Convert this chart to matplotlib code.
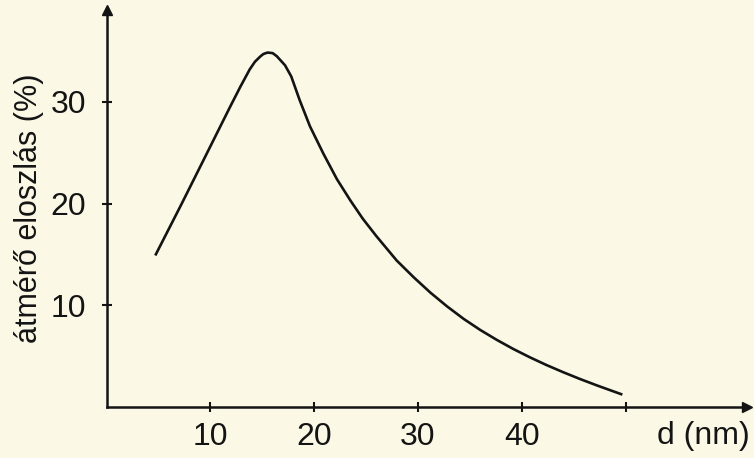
import matplotlib
matplotlib.use("Agg")
import matplotlib.pyplot as plt

# data
d_nm = [4.7, 7.2, 9.65, 11.9, 12.9, 13.8, 14.3, 14.8, 15.1, 15.5, 16.0, 16.4, 17.2,
        17.8, 18.6, 19.6, 20.9, 22.2, 23.5, 24.7, 26.0, 27.96, 29.6, 31.2, 32.8,
        34.4, 36.0, 37.6, 39.2, 40.8, 42.4, 44.0, 45.6, 47.2, 48.8, 49.7]
dist_pct = [14.9, 19.9, 24.9, 29.5, 31.5, 33.2, 33.95, 34.45, 34.7, 34.85, 34.8, 34.5,
            33.6, 32.5, 30.2, 27.6, 24.9, 22.4, 20.3, 18.5, 16.8, 14.4, 12.75, 11.25,
            9.9, 8.67, 7.58, 6.6, 5.7, 4.88, 4.12, 3.42, 2.76, 2.14, 1.55, 1.22]
x_ticks = [10, 20, 30, 40, 50]
x_tick_labels = ["10", "20", "30", "40", ""]
y_ticks = [10, 20, 30]
y_tick_labels = ["10", "20", "30"]
x_label = "d (nm)"
y_label = "átmérő eloszlás (%)"

bg = "#fbf9e6"
ink = "#141414"
font = ["Liberation Sans Narrow", "Liberation Sans", "DejaVu Sans"]
fs = 23

fig = plt.figure(figsize=(7.54, 4.58), dpi=100, facecolor=bg)
W, H = 754, 458
x0_px, y0_px = 106.5, 407.0
px_x, px_y = 10.38, 10.17
xmax, ymax = (747 - x0_px) / px_x, (y0_px - 10) / px_y
ax = fig.add_axes([x0_px / W, (H - y0_px) / H, xmax * px_x / W, ymax * px_y / H])
ax.set_facecolor(bg)
ax.set_xlim(0, xmax)
ax.set_ylim(0, ymax)

ax.plot(d_nm, dist_pct, color=ink, lw=1.9, solid_capstyle="butt", solid_joinstyle="round")

for s in ["top", "right"]:
    ax.spines[s].set_visible(False)
for s in ["left", "bottom"]:
    ax.spines[s].set_color(ink)
    ax.spines[s].set_linewidth(1.8)

# arrow heads
ax.plot(0, 1, marker="^", color=ink, markersize=7, transform=ax.transAxes, clip_on=False)
ax.plot(1, 0, marker=">", color=ink, markersize=7, transform=ax.transAxes, clip_on=False)

ax.set_xticks(x_ticks)
ax.set_xticklabels(x_tick_labels, fontfamily=font, fontsize=fs, color=ink)
ax.set_yticks(y_ticks)
ax.set_yticklabels(y_tick_labels, fontfamily=font, fontsize=fs, color=ink)
ax.tick_params(direction="inout", length=7, width=1.5, color=ink)
ax.tick_params(axis="x", pad=7)
ax.tick_params(axis="y", pad=11)

ax.set_ylabel(y_label, fontfamily=font, fontsize=22, color=ink, labelpad=5)
fig.text(703 / W, (H - 444) / H, x_label, fontfamily=font, fontsize=fs, color=ink,
         ha="center", va="baseline")

fig.savefig("out.png", dpi=100, facecolor=bg)
